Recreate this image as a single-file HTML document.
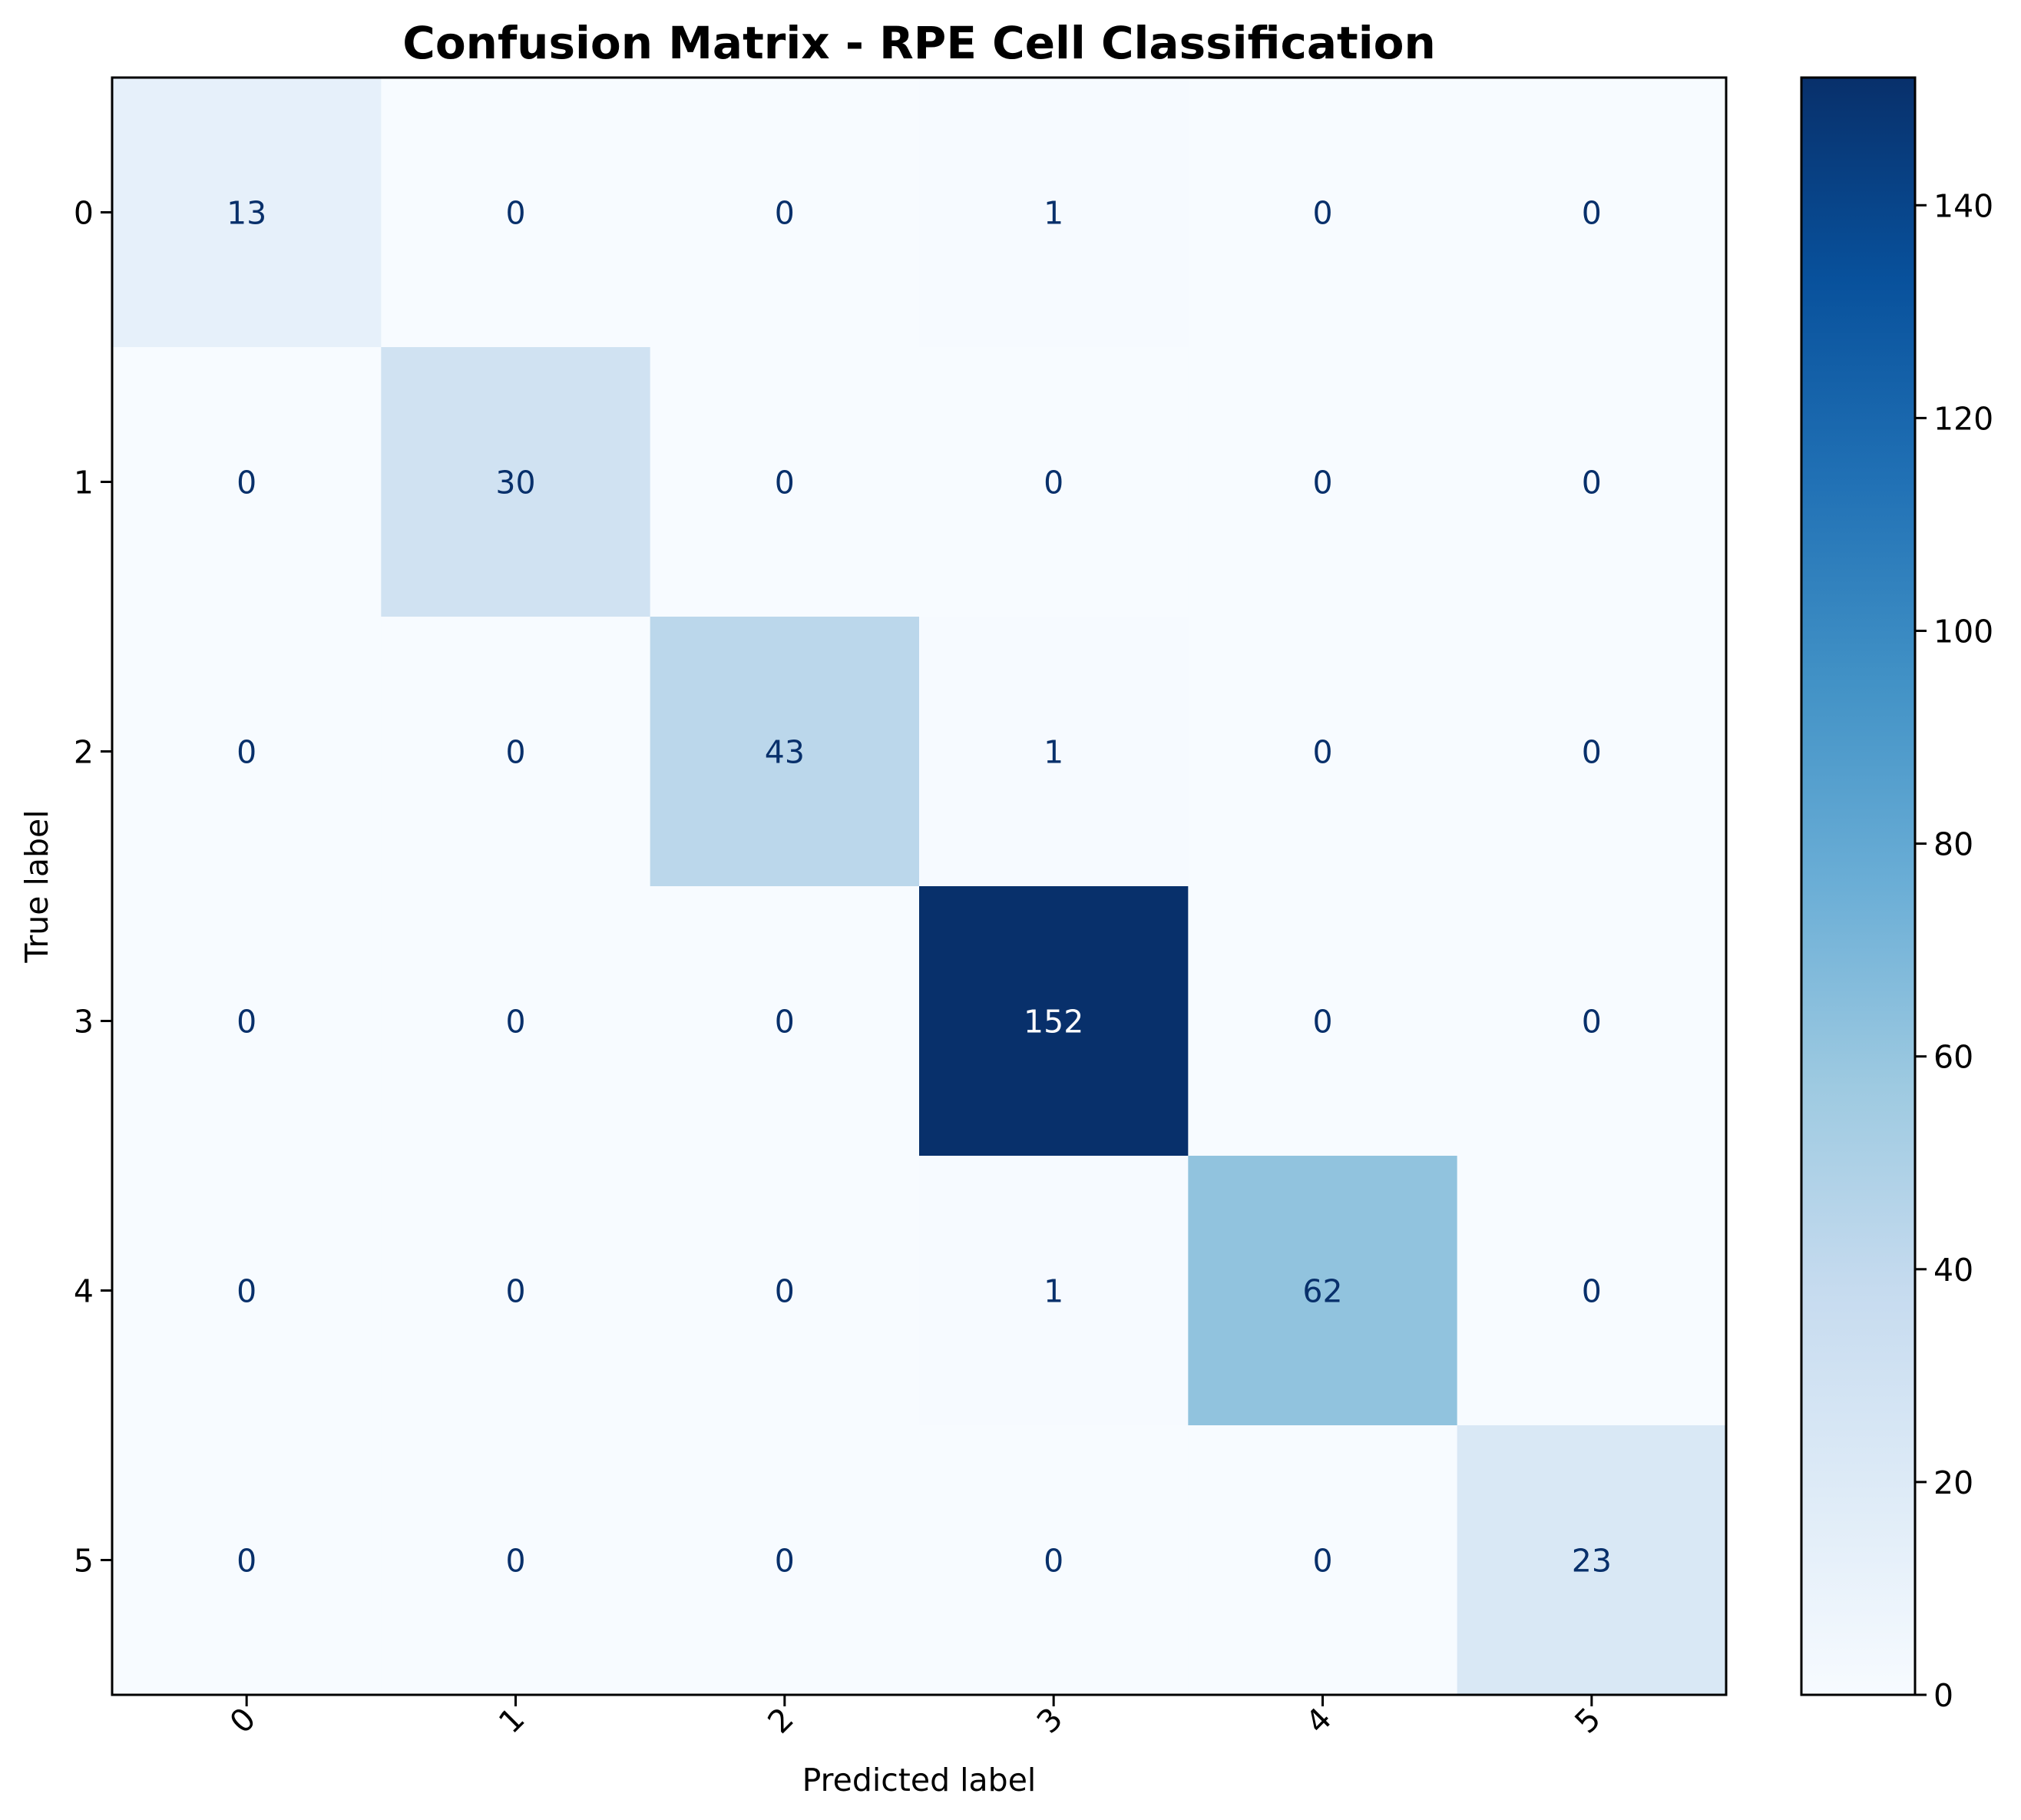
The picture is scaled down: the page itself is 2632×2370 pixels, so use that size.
<!DOCTYPE html>
<html><head><meta charset="utf-8"><style>
html,body{margin:0;padding:0;background:#fff}
svg{display:block;font-family:"DejaVu Sans","Liberation Sans",sans-serif}
</style></head><body>
<svg id="chart" width="2632" height="2370" viewBox="0 0 2632 2370" xmlns="http://www.w3.org/2000/svg">
<defs>
<linearGradient id="cbgrad" x1="0" y1="1" x2="0" y2="0">
<stop offset="0" stop-color="#f7fbff"/><stop offset="0.125" stop-color="#deebf7"/><stop offset="0.25" stop-color="#c6dbef"/><stop offset="0.375" stop-color="#9ecae1"/><stop offset="0.5" stop-color="#6baed6"/><stop offset="0.625" stop-color="#4292c6"/><stop offset="0.75" stop-color="#2171b5"/><stop offset="0.875" stop-color="#08519c"/><stop offset="1" stop-color="#08306b"/>
</linearGradient>
</defs>
<text x="1197" y="76" text-anchor="middle" font-size="58" font-weight="bold">Confusion Matrix - RPE Cell Classification</text>
<g id="cells"></g>
<g id="axes"></g>
<text x="1197" y="2332" text-anchor="middle" font-size="41">Predicted label</text>
<text x="62" y="1154" text-anchor="middle" font-size="41" transform="rotate(-90 62 1154)">True label</text>
<rect x="2346" y="101" width="148" height="2106" fill="url(#cbgrad)" stroke="#000" stroke-width="3"/>
<g id="cbticks"></g>
</svg>
<script>
const rowLabels = ["0","1","2","3","4","5"];
const colLabels = ["0","1","2","3","4","5"];
const matrix = [
 [13,0,0,1,0,0],
 [0,30,0,0,0,0],
 [0,0,43,1,0,0],
 [0,0,0,152,0,0],
 [0,0,0,1,62,0],
 [0,0,0,0,0,23]
];
const cbTicks = [0,20,40,60,80,100,120,140];
const vmin = 0, vmax = 152;

const NS = "http://www.w3.org/2000/svg";
const L = 146, T = 101, W = 2102, H = 2106;
const CBT = 101, CBH = 2106, CBX = 2494;
const nC = colLabels.length, nR = rowLabels.length;
const cw = W / nC, ch = H / nR;
const xPos = i => L + i * cw;
const yPos = j => T + j * ch;
const cbY = v => CBT + CBH - (v - vmin) / (vmax - vmin) * CBH;
const stops = ["#f7fbff","#deebf7","#c6dbef","#9ecae1","#6baed6","#4292c6","#2171b5","#08519c","#08306b"];
function hex(h){return [1,3,5].map(i=>parseInt(h.substr(i,2),16));}
function color(v){
  let t = (v - vmin) / (vmax - vmin); t = Math.max(0, Math.min(1, t));
  const s = t * (stops.length - 1); const i = Math.min(Math.floor(s), stops.length - 2); const f = s - i;
  const a = hex(stops[i]), b = hex(stops[i+1]);
  return "rgb(" + a.map((x,k)=>Math.round(x + (b[k]-x)*f)).join(",") + ")";
}
function mk(tag, attrs, parent){const e=document.createElementNS(NS,tag);for(const k in attrs)e.setAttribute(k,attrs[k]);parent.appendChild(e);return e;}
const cells = document.getElementById("cells");
matrix.forEach((row, j) => row.forEach((v, i) => {
  const r = mk("rect", {x:xPos(i), y:yPos(j), width:cw+0.6, height:ch+0.6, fill:color(v)}, cells);
  
  
  const t = mk("text", {x:xPos(i)+cw/2, y:yPos(j)+ch/2+15, "text-anchor":"middle", "font-size":"41", fill: v > (vmax+vmin)/2 ? "#ffffff" : "#08306b"}, cells);
  
  
  t.textContent = v;
}));
const axes = document.getElementById("axes");
const frame = mk("rect", {x:L, y:T, width:W, height:H, fill:"none", stroke:"#000", "stroke-width":"3"}, axes);


colLabels.forEach((lab, i) => {
  const x = xPos(i) + cw/2;
  mk("line", {x1:x, y1:T+H, x2:x, y2:T+H+15, stroke:"#000", "stroke-width":"3"}, axes);
  const ax = x + 14, ay = T + H + 34;
  const t = mk("text", {x:ax, y:ay, "text-anchor":"end", "font-size":"41", transform:"rotate(-45 "+ax+" "+ay+")"}, axes);
  
  
  t.textContent = lab;
});
rowLabels.forEach((lab, j) => {
  const y = yPos(j) + ch/2;
  mk("line", {x1:L-15, y1:y, x2:L, y2:y, stroke:"#000", "stroke-width":"3"}, axes);
  const t = mk("text", {x:L-24, y:y+15, "text-anchor":"end", "font-size":"41"}, axes);
  
  
  t.textContent = lab;
});
const cbg = document.getElementById("cbticks");
cbTicks.forEach(v => {
  const y = cbY(v);
  mk("line", {x1:CBX, y1:y, x2:CBX+15, y2:y, stroke:"#000", "stroke-width":"3"}, cbg);
  const t = mk("text", {x:CBX+24, y:y+15, "font-size":"41"}, cbg);
  
  
  t.textContent = v;
});
</script>
</body></html>
